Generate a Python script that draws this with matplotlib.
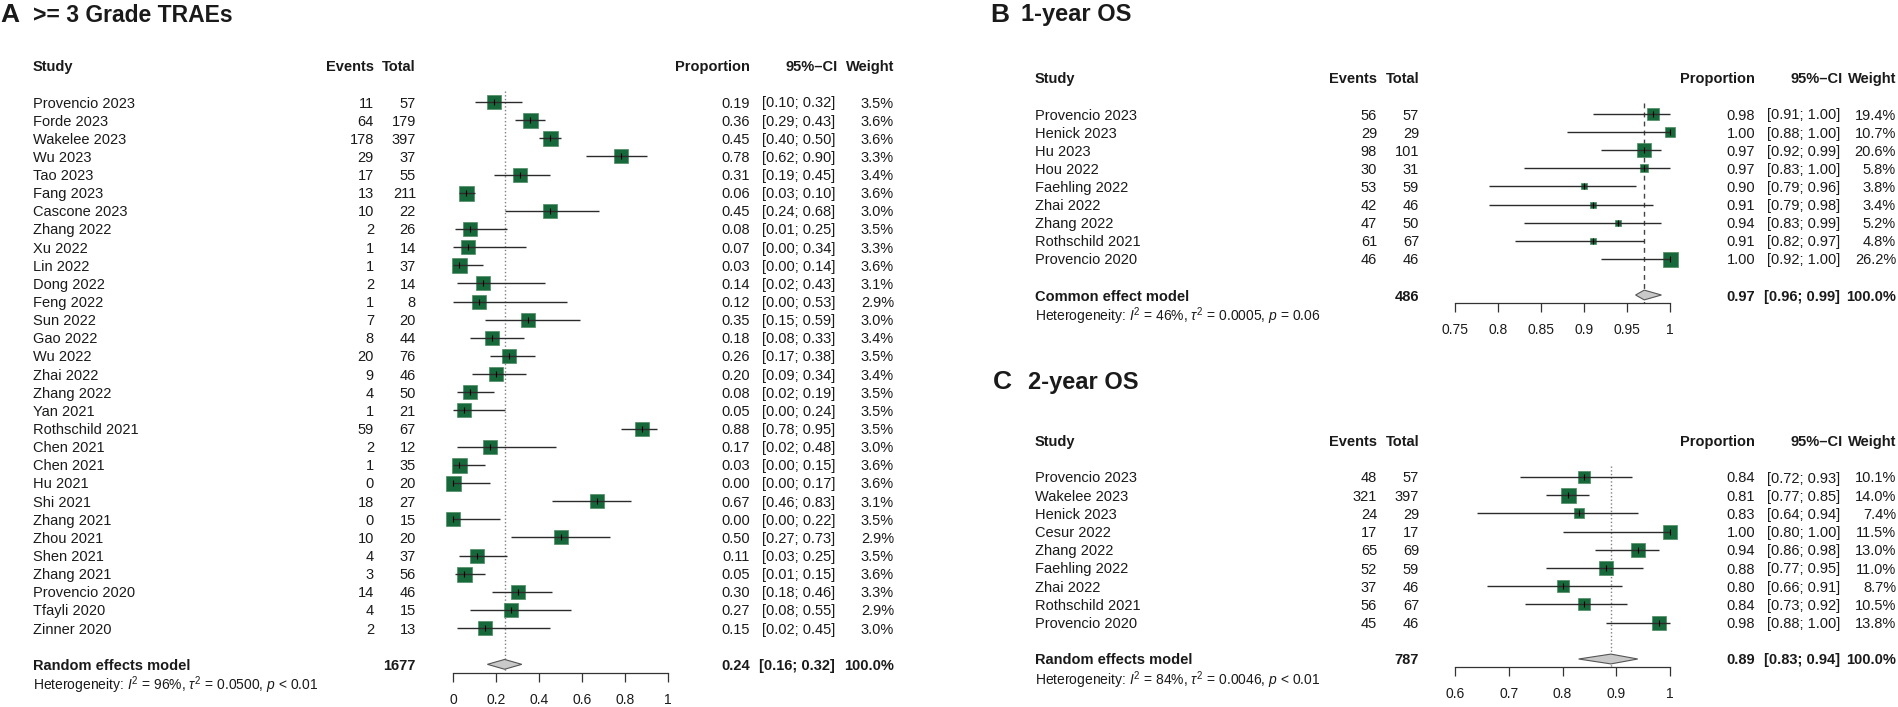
import matplotlib
matplotlib.use("Agg")
import matplotlib.pyplot as plt
from matplotlib.transforms import blended_transform_factory
import numpy as np

plt.rcParams["font.family"] = ["Liberation Sans", "DejaVu Sans"]
plt.rcParams["mathtext.fontset"] = "custom"
plt.rcParams["mathtext.rm"] = "Liberation Sans"
plt.rcParams["mathtext.it"] = "Liberation Sans:italic"
plt.rcParams["mathtext.bf"] = "Liberation Sans:bold"

# ---- Panel A: >= 3 Grade TRAEs ----
studies_a = ["Provencio 2023", "Forde 2023", "Wakelee 2023", "Wu 2023", "Tao 2023",
             "Fang 2023", "Cascone 2023", "Zhang 2022", "Xu 2022", "Lin 2022",
             "Dong 2022", "Feng 2022", "Sun 2022", "Gao 2022", "Wu 2022",
             "Zhai 2022", "Zhang 2022", "Yan 2021", "Rothschild 2021", "Chen 2021",
             "Chen 2021", "Hu 2021", "Shi 2021", "Zhang 2021", "Zhou 2021",
             "Shen 2021", "Zhang 2021", "Provencio 2020", "Tfayli 2020", "Zinner 2020"]
events_a = [11, 64, 178, 29, 17, 13, 10, 2, 1, 1, 2, 1, 7, 8, 20, 9, 4, 1, 59, 2,
            1, 0, 18, 0, 10, 4, 3, 14, 4, 2]
total_a = [57, 179, 397, 37, 55, 211, 22, 26, 14, 37, 14, 8, 20, 44, 76, 46, 50, 21, 67, 12,
           35, 20, 27, 15, 20, 37, 56, 46, 15, 13]
prop_a = [0.19, 0.36, 0.45, 0.78, 0.31, 0.06, 0.45, 0.08, 0.07, 0.03, 0.14, 0.12, 0.35, 0.18, 0.26,
          0.20, 0.08, 0.05, 0.88, 0.17, 0.03, 0.00, 0.67, 0.00, 0.50, 0.11, 0.05, 0.30, 0.27, 0.15]
lo_a = [0.10, 0.29, 0.40, 0.62, 0.19, 0.03, 0.24, 0.01, 0.00, 0.00, 0.02, 0.00, 0.15, 0.08, 0.17,
        0.09, 0.02, 0.00, 0.78, 0.02, 0.00, 0.00, 0.46, 0.00, 0.27, 0.03, 0.01, 0.18, 0.08, 0.02]
hi_a = [0.32, 0.43, 0.50, 0.90, 0.45, 0.10, 0.68, 0.25, 0.34, 0.14, 0.43, 0.53, 0.59, 0.33, 0.38,
        0.34, 0.19, 0.24, 0.95, 0.48, 0.15, 0.17, 0.83, 0.22, 0.73, 0.25, 0.15, 0.46, 0.55, 0.45]
weight_a = [3.5, 3.6, 3.6, 3.3, 3.4, 3.6, 3.0, 3.5, 3.3, 3.6, 3.1, 2.9, 3.0, 3.4, 3.5,
            3.4, 3.5, 3.5, 3.5, 3.0, 3.6, 3.6, 3.1, 3.5, 2.9, 3.5, 3.6, 3.3, 2.9, 3.0]
summary_a = (1677, 0.24, 0.16, 0.32)
het_a = r"Heterogeneity: $I^2$ = 96%, $\tau^2$ = 0.0500, $p$ < 0.01"
ticks_a = [0, 0.2, 0.4, 0.6, 0.8, 1]

# ---- Panel B: 1-year OS ----
studies_b = ["Provencio 2023", "Henick 2023", "Hu 2023", "Hou 2022", "Faehling 2022",
             "Zhai 2022", "Zhang 2022", "Rothschild 2021", "Provencio 2020"]
events_b = [56, 29, 98, 30, 53, 42, 47, 61, 46]
total_b = [57, 29, 101, 31, 59, 46, 50, 67, 46]
prop_b = [0.98, 1.00, 0.97, 0.97, 0.90, 0.91, 0.94, 0.91, 1.00]
lo_b = [0.91, 0.88, 0.92, 0.83, 0.79, 0.79, 0.83, 0.82, 0.92]
hi_b = [1.00, 1.00, 0.99, 1.00, 0.96, 0.98, 0.99, 0.97, 1.00]
weight_b = [19.4, 10.7, 20.6, 5.8, 3.8, 3.4, 5.2, 4.8, 26.2]
summary_b = (486, 0.97, 0.96, 0.99)
het_b = r"Heterogeneity: $I^2$ = 46%, $\tau^2$ = 0.0005, $p$ = 0.06"
ticks_b = [0.75, 0.8, 0.85, 0.9, 0.95, 1]

# ---- Panel C: 2-year OS ----
studies_c = ["Provencio 2023", "Wakelee 2023", "Henick 2023", "Cesur 2022", "Zhang 2022",
             "Faehling 2022", "Zhai 2022", "Rothschild 2021", "Provencio 2020"]
events_c = [48, 321, 24, 17, 65, 52, 37, 56, 45]
total_c = [57, 397, 29, 17, 69, 59, 46, 67, 46]
prop_c = [0.84, 0.81, 0.83, 1.00, 0.94, 0.88, 0.80, 0.84, 0.98]
lo_c = [0.72, 0.77, 0.64, 0.80, 0.86, 0.77, 0.66, 0.73, 0.88]
hi_c = [0.93, 0.85, 0.94, 1.00, 0.98, 0.95, 0.91, 0.92, 1.00]
weight_c = [10.1, 14.0, 7.4, 11.5, 13.0, 11.0, 8.7, 10.5, 13.8]
summary_c = (787, 0.89, 0.83, 0.94)
het_c = r"Heterogeneity: $I^2$ = 84%, $\tau^2$ = 0.0046, $p$ < 0.01"
ticks_c = [0.6, 0.7, 0.8, 0.9, 1]

W, H = 1898, 707
TXT = "#1a1a1a"
GREEN = "#17683a"
FS = 10.5
VA = "center_baseline"


def fx(px):
    return px / W


def draw_panel(fig, letter, title, title_y, cols, plot_x, first_row, step,
               studies, events, totals, props, lows, highs, weights,
               summary, model_label, het, ticks, ref_ls, ref_col, title_fs=17):
    n = len(studies)
    y_bottom = n + 1.45
    top_px = first_row - 2 * step
    bot_px = first_row + y_bottom * step
    ax = fig.add_axes([fx(plot_x[0]), 1 - bot_px / H,
                       (plot_x[1] - plot_x[0]) / W, (bot_px - top_px) / H])
    ax.set_xlim(ticks[0], ticks[-1])
    ax.set_ylim(y_bottom, -2)
    for side in ["top", "left", "right"]:
        ax.spines[side].set_visible(False)
    ax.spines["bottom"].set_color("#333333")
    ax.spines["bottom"].set_linewidth(0.9)
    ax.set_yticks([])
    ax.set_xticks(ticks)
    ax.set_xticklabels(["%g" % t for t in ticks])
    ax.tick_params(axis="x", direction="out", length=6.5, width=0.9, pad=8,
                   labelsize=10, colors="#333333", labelcolor=TXT)
    ax.patch.set_alpha(0)

    tr = blended_transform_factory(fig.transFigure, ax.transData)

    # titles
    head_y = -2
    fig.text(fx(cols["letter"]), 1 - title_y / H, letter, fontsize=19, fontweight="bold",
             color=TXT, va="center", ha="left")
    fig.text(fx(cols["title"]), 1 - title_y / H, title, fontsize=title_fs, fontweight="bold",
             color=TXT, va="center", ha="left")

    # header row
    hdr = dict(transform=tr, fontsize=FS, fontweight="bold", color=TXT, va=VA)
    ax.text(fx(cols["study"]), head_y, "Study", ha="left", **hdr)
    ax.text(fx(cols["events"]), head_y, "Events", ha="right", **hdr)
    ax.text(fx(cols["total"]), head_y, "Total", ha="right", **hdr)
    ax.text(fx(cols["prop"]), head_y, "Proportion", ha="right", **hdr)
    ax.text(fx(cols["ci"] + 3), head_y, "95%\u2013CI", ha="right", **hdr)
    ax.text(fx(cols["weight"]), head_y, "Weight", ha="right", **hdr)

    body = dict(transform=tr, fontsize=FS, color=TXT, va=VA)
    wmax = max(weights)
    for i in range(n):
        ax.text(fx(cols["study"]), i, studies[i], ha="left", **body)
        ax.text(fx(cols["events"]), i, str(events[i]), ha="right", **body)
        ax.text(fx(cols["total"]), i, str(totals[i]), ha="right", **body)
        ax.text(fx(cols["prop"]), i, "%.2f" % props[i], ha="right", **body)
        ax.text(fx(cols["ci"]), i, "[%.2f; %.2f]" % (lows[i], highs[i]), ha="right", **body)
        ax.text(fx(cols["weight"]), i, "%.1f%%" % weights[i], ha="right", **body)

        side_px = 15 * np.sqrt(weights[i] / wmax)
        ax.scatter([props[i]], [i], marker="s", s=(side_px * 0.72) ** 2, color=GREEN,
                   edgecolor="#4f8d63", linewidth=0.5, zorder=3, clip_on=False)
        ax.plot([lows[i], highs[i]], [i, i], color="#2b2b2b", lw=1.0, zorder=4,
                solid_capstyle="butt", clip_on=False)
        ax.scatter([props[i]], [i], marker="|", s=16, color="black", linewidth=0.8,
                   zorder=5, clip_on=False)

    # summary
    tot, est, lo, hi = summary
    ys = n + 1
    bold = dict(transform=tr, fontsize=FS, fontweight="bold", color=TXT, va=VA)
    ax.text(fx(cols["study"]), ys, model_label, ha="left", **bold)
    ax.text(fx(cols["total"]), ys, str(tot), ha="right", **bold)
    ax.text(fx(cols["prop"]), ys, "%.2f" % est, ha="right", **bold)
    ax.text(fx(cols["ci"]), ys, "[%.2f; %.2f]" % (lo, hi), ha="right", **bold)
    ax.text(fx(cols["weight"]), ys, "100.0%", ha="right", **bold)
    dh = 0.27
    ax.fill([lo, est, hi, est], [ys, ys - dh, ys, ys + dh], facecolor="#c9c9c9",
            edgecolor="#555555", linewidth=0.8, zorder=3, clip_on=False)
    ax.plot([est, est], [-0.6, y_bottom], color=ref_col, lw=1.0, ls=ref_ls, zorder=1,
            clip_on=False)
    ax.text(fx(cols["study"]), n + 2, het, ha="left", transform=tr, fontsize=10,
            color=TXT, va=VA)
    return ax


fig = plt.figure(figsize=(W / 100, H / 100), dpi=100)

cols_a = dict(letter=0, title=33, study=33, events=374, total=416, prop=750, ci=835, weight=894)
cols_bc = dict(letter=990, title=1021, study=1035, events=1377, total=1419, prop=1755, ci=1840,
               weight=1896)
cols_c = dict(cols_bc, letter=993, title=1028)

draw_panel(fig, "A", ">= 3 Grade TRAEs", 15, cols_a, (453, 668), 102, 18.14,
           studies_a, events_a, total_a, prop_a, lo_a, hi_a, weight_a,
           summary_a, "Random effects model", het_a, ticks_a, ":", "#808080", title_fs=16.5)
draw_panel(fig, "B", "1-year OS", 15, cols_bc, (1455, 1670), 114, 18.1,
           studies_b, events_b, total_b, prop_b, lo_b, hi_b, weight_b,
           summary_b, "Common effect model", het_b, ticks_b, (0, (3.5, 3)), "#444444")
draw_panel(fig, "C", "2-year OS", 382, cols_c, (1455, 1670), 477, 18.2,
           studies_c, events_c, total_c, prop_c, lo_c, hi_c, weight_c,
           summary_c, "Random effects model", het_c, ticks_c, ":", "#808080")

fig.savefig("out.png", dpi=100)
